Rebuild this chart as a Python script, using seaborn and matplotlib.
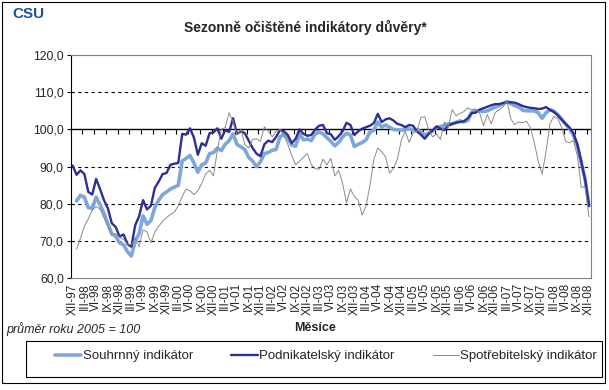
import numpy as np
import matplotlib
matplotlib.use("Agg")
import matplotlib.pyplot as plt
import seaborn as sns
from matplotlib.patches import Rectangle
from matplotlib.lines import Line2D

# monthly values XII-97 .. XII-08 (133 months)
souhrnny = [
    np.nan, 80.8, 82.3, 81.8, 79.0, 78.8, 81.8, 79.8, 77.5, 74.6, 72.0, 71.3,
    69.5, 69.0, 67.2, 66.0, 70.0, 72.0, 76.8, 74.5, 75.5, 79.0, 81.0, 82.5,
    83.2, 84.0, 84.5, 85.0, 91.5, 92.2, 93.0, 91.0, 88.5, 90.5, 91.0, 93.5,
    93.8, 95.0, 94.3, 96.0, 97.0, 98.8, 96.0, 95.3, 94.6, 92.5, 91.5, 90.0,
    91.3, 93.5, 93.8, 94.4, 94.6, 98.0, 98.6, 97.5, 95.8, 95.5, 98.8, 97.2,
    97.4, 97.0, 98.8, 99.4, 98.8, 97.8, 96.8, 95.6, 96.5, 98.0, 99.0, 98.5,
    95.4, 96.0, 96.5, 97.2, 99.3, 99.8, 102.0, 100.6, 101.2, 100.6, 100.0, 99.9,
    99.8, 99.9, 100.2, 99.8, 100.0, 99.4, 98.4, 99.0, 99.6, 100.6, 100.8, 101.0,
    101.5, 101.5, 101.9, 102.3, 102.0, 102.4, 104.6, 105.0, 105.0, 104.8, 105.0, 105.5,
    106.0, 106.4, 106.8, 107.5, 106.9, 106.4, 106.0, 105.2, 105.0, 105.0, 105.0, 104.5,
    103.0, 104.5, 105.3, 104.9, 104.0, 102.8, 101.5, 100.2, 98.5, 95.7, 91.0, 86.5, 79.5,
]
podnikatelsky = [
    90.3, 87.8, 89.0, 88.0, 83.2, 82.5, 86.7, 84.0, 81.0, 78.8, 74.8, 73.8,
    71.2, 71.8, 69.2, 68.5, 74.3, 76.7, 81.0, 78.5, 79.5, 84.3, 86.0, 88.0,
    88.3, 90.5, 90.8, 91.0, 98.8, 98.6, 100.3, 97.8, 93.2, 96.3, 95.6, 99.0,
    99.2, 100.3, 97.5, 99.8, 99.3, 103.0, 98.8, 99.5, 99.0, 97.0, 95.0, 93.5,
    92.8, 96.0, 97.0, 96.6, 98.0, 99.8, 99.5, 98.5, 96.3, 97.5, 100.0, 98.8,
    98.3, 98.5, 100.0, 101.0, 101.2, 99.0, 98.7, 97.2, 98.2, 99.5, 101.8, 101.2,
    98.5, 99.5, 100.2, 100.6, 101.0, 101.7, 104.2, 102.0, 102.7, 103.0, 102.4, 101.5,
    101.2, 100.6, 101.2, 101.0, 99.5, 98.6, 97.5, 98.8, 99.7, 100.8, 100.2, 99.8,
    101.0, 101.5, 101.8, 102.0, 102.2, 103.0, 104.4, 104.5, 105.3, 105.7, 106.1, 106.5,
    106.8, 106.8, 107.1, 107.3, 107.3, 107.2, 106.8, 106.3, 106.0, 105.8, 105.7, 105.5,
    105.6, 106.0, 105.3, 104.7, 103.8, 102.6, 101.5, 100.5, 99.0, 96.0, 91.5, 86.5, 79.5,
]
spotrebitelsky = [
    np.nan, 67.8, 70.8, 74.0, 76.0, 78.3, 79.3, 78.6, 76.3, 74.0, 71.5, 72.0,
    71.0, 70.5, 69.2, 69.0, 70.8, 68.5, 73.0, 72.5, 69.5, 72.5, 74.0, 75.3,
    76.3, 77.2, 77.8, 79.5, 82.0, 84.0, 83.5, 82.5, 83.5, 85.5, 88.0, 89.0,
    87.5, 94.5, 100.0, 100.5, 104.5, 102.0, 98.5, 100.0, 96.0, 95.0, 97.3, 97.5,
    96.8, 100.7, 99.5, 98.0, 99.5, 100.0, 98.5, 96.0, 93.0, 90.5, 91.5, 92.5,
    93.5, 90.5, 89.5, 89.3, 92.0, 90.5, 92.2, 87.5, 89.0, 85.5, 80.3, 84.0,
    82.0, 81.0, 77.0, 79.5, 85.0, 92.0, 95.0, 94.0, 92.6, 88.3, 89.5, 92.0,
    97.0, 99.5, 96.5, 99.0, 99.5, 103.2, 103.4, 100.0, 98.0, 98.8, 97.3, 102.0,
    100.5, 105.3, 103.7, 104.3, 104.8, 105.8, 105.3, 105.5, 104.5, 101.0, 104.0, 101.5,
    104.5, 105.3, 106.0, 107.7, 102.8, 101.3, 102.0, 101.8, 102.2, 100.5, 96.5, 91.5,
    88.0, 94.0, 101.5, 103.5, 103.0, 100.5, 96.8, 96.4, 97.0, 93.0, 84.5, 84.5, 76.5,
]
tick_labels = [
    "XII-97", "III-98", "VI-98", "IX-98", "XII-98", "III-99", "VI-99", "IX-99",
    "XII-99", "III-00", "VI-00", "IX-00", "XII-00", "III-01", "VI-01", "IX-01",
    "XII-01", "III-02", "VI-02", "IX-02", "XII-02", "III-03", "VI-03", "IX-03",
    "XII-03", "III-04", "VI-04", "IX-04", "XII-04", "III-05", "VI-05", "IX-05",
    "XII-05", "III-06", "VI-06", "IX-06", "XII-06", "III-07", "VI-07", "IX-07",
    "XII-07", "III-08", "VI-08", "IX-08", "XII-08",
]
series_names = ["Souhrnný indikátor", "Podnikatelský indikátor", "Spotřebitelský indikátor"]
series_colors = ["#7DA7DA", "#2E2E98", "#8A8A8A"]
series_widths = [2.6, 1.7, 0.7]

months = np.arange(len(podnikatelsky))

sns.set_style("white")
plt.rcParams['font.family'] = ['Liberation Sans', 'DejaVu Sans']

W, H = 609, 390
def fx(px):
    return px / W
def fy(py):
    return 1 - py / H

fig = plt.figure(figsize=(W / 100, H / 100), dpi=100)
ax = fig.add_axes([fx(70.7), fy(278.3), fx(591) - fx(70.7), fy(55) - fy(278.3)])

for vals, name, col, lw in zip([souhrnny, podnikatelsky, spotrebitelsky],
                               series_names, series_colors, series_widths):
    sns.lineplot(x=months, y=vals, ax=ax, color=col, linewidth=lw, legend=False, zorder=3)

ax.set_xlim(-0.5, len(months) - 0.5)
ax.set_ylim(60, 120)

# gridlines and the category axis crossing at 100
for v in [70, 80, 90, 110]:
    ax.axhline(v, color='black', lw=0.8, ls=(0, (3, 3)), zorder=1)
ax.axhline(100, color='black', lw=1.0, zorder=2)
sec = ax.secondary_xaxis(40 / 60)
sec.set_alignment('bottom')
sec.set_xticks(np.arange(-0.5, len(months), 3))
sec.set_xticklabels([])
sec.tick_params(direction='out', length=3.5, width=0.8, color='black')
for s in sec.spines.values():
    s.set_visible(False)

yt = list(range(60, 121, 10))
ax.set_yticks(yt)
ax.set_yticklabels([f"{v:.1f}".replace('.', ',') for v in yt])
ax.tick_params(axis='y', direction='out', length=3, width=0.8, color='black',
               labelsize=8.8, pad=2, left=True)
ax.set_xticks(np.arange(0, len(months), 3))
ax.set_xticklabels(tick_labels, rotation=90, fontsize=8.5)
ax.tick_params(axis='x', length=0, pad=3.5)
ax.set_xlabel('')
ax.set_ylabel('')

ax.spines['left'].set_color('black')
for s in ['top', 'right', 'bottom']:
    ax.spines[s].set_color('#808080')
for s in ax.spines.values():
    s.set_linewidth(0.8)

# texts
fig.text(fx(12), fy(14), 'CSU', color='#1F4F9E', fontsize=11, fontweight='heavy',
         ha='left', va='center')
fig.text(fx(305), fy(27), 'Sezonně očištěné indikátory důvěry*', ha='center', va='center',
         fontsize=10, fontweight='bold')
fig.text(fx(315), fy(328), 'Měsíce', ha='center', va='center', fontsize=9, fontweight='bold')
fig.text(fx(6), fy(329), 'průměr roku 2005 = 100', ha='left', va='center', fontsize=9,
         style='italic')

# borders
fig.patches.append(Rectangle((fx(1.5), fy(383)), fx(605) - fx(1.5), fy(1.5) - fy(383),
                             transform=fig.transFigure, fill=False, edgecolor='black', lw=0.8))
fig.patches.append(Rectangle((fx(26), fy(377)), fx(602) - fx(26), fy(341) - fy(377),
                             transform=fig.transFigure, fill=False, edgecolor='black', lw=0.8))

handles = [Line2D([], [], color=c, lw=lw) for c, lw in zip(series_colors, series_widths)]
fig.legend(handles, series_names, loc='center', bbox_to_anchor=(fx(326), fy(356)), ncol=3,
           frameon=False, fontsize=9.5, handlelength=2.0, handletextpad=0.1,
           columnspacing=2.9)

fig.savefig('out.png', dpi=100)
